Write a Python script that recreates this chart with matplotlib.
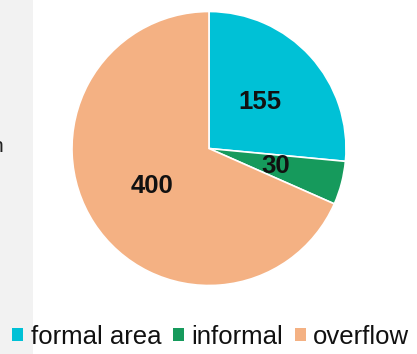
import matplotlib
matplotlib.use("Agg")
import matplotlib.pyplot as plt
from matplotlib.patches import Rectangle, Patch

categories = ["formal area", "informal", "overflow"]
values = [155, 30, 400]
colors = ["#00c1d6", "#169a5c", "#f4b183"]

plt.rcParams['font.family'] = ['Liberation Sans', 'DejaVu Sans']

W, H = 417, 354
fig = plt.figure(figsize=(W/100, H/100), dpi=100)

# gray side panel
fig.patches.append(Rectangle((0, 0), 33/W, 1, transform=fig.transFigure,
                             facecolor="#f2f2f2", edgecolor="none", zorder=0))
fig.text(3/W, 1 - 146/H, "n", ha="right", va="center", fontsize=15, color="#222222")

cx, cy, r = 209, 148.5, 137
ax = fig.add_axes([(cx - r)/W, 1 - (cy + r)/H, 2*r/W, 2*r/H])
wedges, texts, autotexts = ax.pie(
    values, colors=colors, startangle=90, counterclock=False,
    autopct=lambda p: f"{round(p*sum(values)/100):d}", pctdistance=0.5,
    wedgeprops=dict(edgecolor="white", linewidth=1.2),
    textprops=dict(fontsize=18.5, fontweight="bold", color="#111111"))
ax.set_xlim(-1, 1); ax.set_ylim(-1, 1)
ax.set_aspect("equal")

handles = [Patch(facecolor=c, edgecolor="none") for c in colors]
fig.legend(handles, categories, loc="center", bbox_to_anchor=(211/W, 1 - 337/H),
           ncol=3, frameon=False, fontsize=18.5, handlelength=0.42, handleheight=0.42,
           handletextpad=0.3, columnspacing=0.45, borderpad=0, labelcolor="#111111")

fig.savefig("out.png", dpi=100)
